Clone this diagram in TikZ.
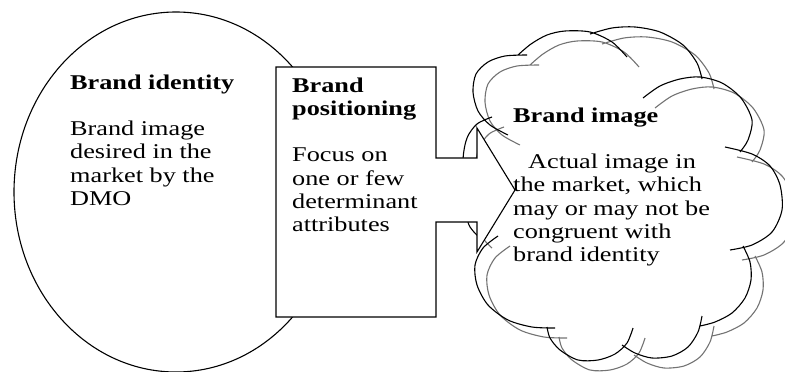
\documentclass[tikz,border=0pt]{standalone}
\usepackage{fontspec}
\setmainfont{Liberation Serif}[FakeStretch=1.25]

% Scalloped outline of the cloud: one open stroke per lobe,
% each lobe running a little past the neighbouring one
\newcommand\cloudlobes{%
  plot[smooth] coordinates {(508,135) (490,125) (478,111) (473,92) (476,74) (488,62) (505,56) (527,55)}
  plot[smooth] coordinates {(492,117) (477,124) (467,138) (463,160) (464,200) (469,225) (480,238)}
  plot[smooth] coordinates {(518,55) (531,44) (547,35) (565,31) (590,32) (612,42) (627,57)}
  plot[smooth] coordinates {(590,34) (612,28) (635,27) (660,32) (683,45) (697,63) (702,79)}
  plot[smooth] coordinates {(643,98) (660,86) (680,79) (700,77) (722,83) (741,98) (752,120) (748,140) (740,152)}
  plot[smooth] coordinates {(725,147) (752,154) (770,166) (780,185) (782,210) (772,232) (752,245) (730,250)}
  plot[smooth] coordinates {(743,246) (750,262) (751,280) (745,298) (732,313) (715,322) (700,326)}
  plot[smooth] coordinates {(702,316) (698,332) (688,347) (672,356) (652,358) (635,353) (622,345)}
  plot[smooth] coordinates {(633,328) (627,343) (615,354) (598,360) (578,360) (560,350) (550,338) (547,327)}
  plot[smooth] coordinates {(498,236) (483,248) (475,265) (477,285) (488,305) (508,320) (532,327) (555,328)}
}

\begin{document}
\begin{tikzpicture}[x=1pt, y=-1pt,
  outline/.style={draw=black, line width=1.1pt},
  shadowline/.style={draw=black!55, line width=1.1pt},
  txt/.style={inner sep=0pt, anchor=base west, text=black,
    font={\fontsize{21pt}{23.3pt}\selectfont}}]
\useasboundingbox (0,0) rectangle (785,372);

% Brand identity: ellipse
\draw[outline] (176,192) ellipse [x radius=162pt, y radius=180pt];

% Brand image: cloud, with a grey copy slightly offset
\begin{scope}[shift={(12,10)}]
  \path[shadowline] \cloudlobes;
\end{scope}
\path[outline] \cloudlobes;

% Brand positioning: box with arrow towards the cloud
\draw[outline, fill=white, line join=miter]
  (276,67) -- (436,67) -- (436,158) -- (477,158) -- (477,128) -- (515,190)
  -- (477,252) -- (477,222) -- (436,222) -- (436,317) -- (276,317) -- cycle;

% Texts
\node[txt] (identity) at (70,89) {\begin{tabular}[t]{@{}l@{}}
  \textbf{Brand identity}\\ \\ Brand image\\ desired in the\\ market by the\\ DMO\end{tabular}};
\node[txt] (positioning) at (292,92) {\begin{tabular}[t]{@{}l@{}}
  \textbf{Brand}\\ \textbf{positioning}\\ \\ Focus on\\ one or few\\ determinant\\ attributes\end{tabular}};
\node[txt] (image) at (513,122) {\begin{tabular}[t]{@{}l@{}}
  \textbf{Brand image}\\ \\ \hspace{15pt}Actual image in\\ the market, which\\ may or may not be\\ congruent with\\ brand identity\end{tabular}};
\end{tikzpicture}
\end{document}
